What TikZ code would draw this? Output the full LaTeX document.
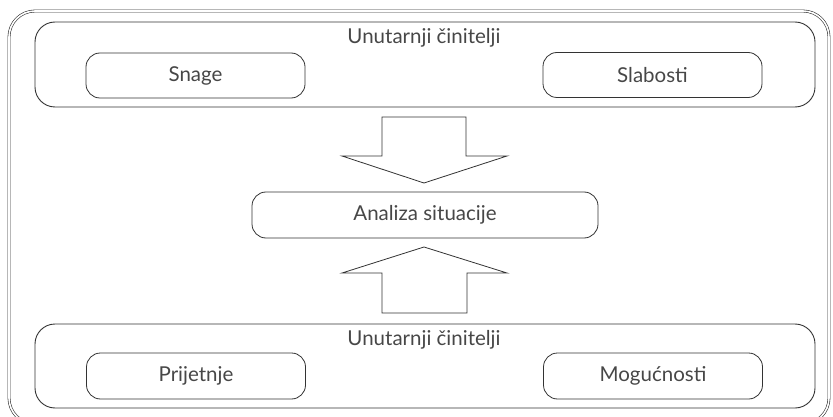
\documentclass[tikz,border=0pt]{standalone}
\usepackage{fontspec}
\setmainfont{Lato}
\usetikzlibrary{positioning}
\definecolor{ink}{HTML}{333333}
\colorlet{frame}{ink}

\begin{document}
\begin{tikzpicture}[x=1pt,y=-1pt,font=\fontsize{20.5}{23}\selectfont,text=ink!90,
              grp/.style={draw=frame,line width=0.9pt,rounded corners=20pt,minimum width=780pt,minimum height=85pt,inner sep=0},
              box/.style={draw=frame,line width=0.8pt,rounded corners=14pt,minimum width=219pt,minimum height=45pt,inner sep=0},
              bigarrow/.style={draw=frame,line width=0.8pt,fill=white}]
              \useasboundingbox (0,0) rectangle (833,417);
              \draw[frame,double=white,double distance=1.6pt,line width=0.6pt,rounded corners=26pt] (9,11) rectangle (829,424);
              \node[grp] (top) at (425,64.5) {};
              \node (toptitle) at (424,38) {Unutarnji činitelji};
              \node[box] (snage) at (195.5,75.5) {Snage};
              \node[box] (slab) at (652.5,75) {Slabosti};
              \node[box,minimum width=346pt,minimum height=46pt] (anal) at (425,215) {Analiza situacije};
              \node[grp,minimum height=84pt] (bot) at (425,366) {};
              \node (bottitle) at (424,340) {Unutarnji činitelji};
              \node[box,minimum height=46pt] (prij) at (196,376) {Prijetnje};
              \node[box,minimum height=46pt] (mog) at (653,376) {Mogućnosti};
              \draw[bigarrow] (382,117) -- (466,117) -- (466,156) -- (507,156) -- (424,183)
              -- (342,156) -- (382,156) -- cycle;
              \draw[bigarrow] (424,247) -- (507,273) -- (467,273) -- (467,313) -- (382,313)
              -- (382,273) -- (342,273) -- cycle;
            \end{tikzpicture}
\end{document}
